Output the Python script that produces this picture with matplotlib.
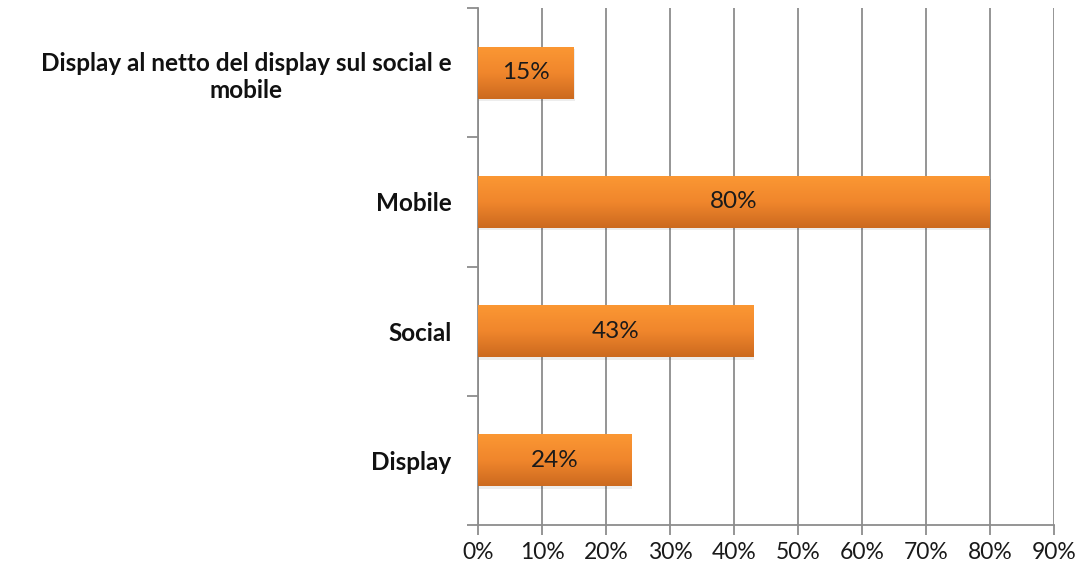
import matplotlib.pyplot as plt
import numpy as np
from matplotlib.colors import LinearSegmentedColormap

categories = ['Display', 'Social', 'Mobile', 'Display al netto del display sul social e\nmobile']
values = [24, 43, 80, 15]
xticks = [0, 10, 20, 30, 40, 50, 60, 70, 80, 90]

plt.rcParams['font.family'] = ['Lato', 'DejaVu Sans']

fig = plt.figure(figsize=(10.8, 5.75), dpi=100)
ax = fig.add_axes([0.4426, 0.087, 0.5333, 0.899])

grey = '#8c8c8c'
bh = 0.4
cmap = LinearSegmentedColormap.from_list('orng', ['#cc6a1f', '#f0862c', '#fb9733'])
grad = np.linspace(0, 1, 64).reshape(-1, 1)

for i, v in enumerate(values):
    # soft shadow then gradient bar
    ax.add_patch(plt.Rectangle((0.1, i - bh/2 - 0.02), v, bh, facecolor='#000000', alpha=0.07,
                               edgecolor='none', zorder=2))
    ax.imshow(grad, cmap=cmap, aspect='auto', origin='lower',
              extent=[0, v, i - bh/2, i + bh/2], zorder=3)
    ax.text(v / 2, i, f'{v}%', ha='center', va='center', fontsize=17.5, color='#1a1a1a', zorder=4)

ax.set_xlim(0, 90)
ax.set_ylim(-0.5, 3.5)
ax.set_xticks(xticks)
ax.set_xticklabels([f'{t}%' for t in xticks], fontsize=16.5, color='#1a1a1a')
ax.set_yticks(range(len(categories)))
ax.set_yticklabels(categories, fontsize=17.5, fontweight='bold', color='#111111',
                   ha='right', multialignment='center', linespacing=1.25)
ax.set_yticks(np.arange(-0.5, 4, 1), minor=True)
ax.tick_params(axis='y', which='major', length=0, pad=19)
ax.tick_params(axis='y', which='minor', length=8, color=grey, width=1.3)
ax.tick_params(axis='x', length=7, color=grey, width=1.3, pad=5)

ax.grid(axis='x', color=grey, linewidth=1.3, zorder=1)
ax.set_axisbelow(True)
for s in ['top', 'right']:
    ax.spines[s].set_visible(False)
for s in ['left', 'bottom']:
    ax.spines[s].set_color(grey)
    ax.spines[s].set_linewidth(1.3)

fig.savefig('out.png', dpi=100, facecolor='white')
